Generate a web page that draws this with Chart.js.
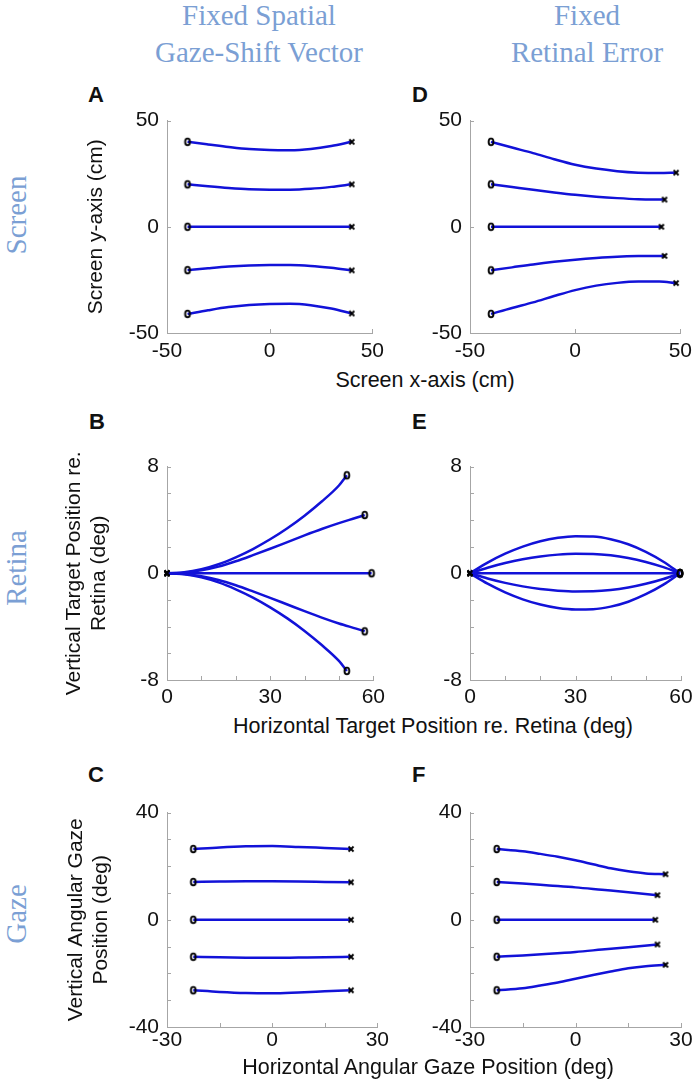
<!DOCTYPE html>
<html>
<head>
<meta charset="utf-8">
<script src="https://cdn.jsdelivr.net/npm/chart.js@4.4.1/dist/chart.umd.min.js"></script>
<style>
  body { margin: 0; background: #fff; }
  #fig { position: relative; width: 698px; height: 1084px; overflow: hidden; font-family: "Liberation Sans", Arial, sans-serif; color: #111; }
  canvas { position: absolute; }
  .head { position: absolute; font-family: "Liberation Serif", "Times New Roman", serif; color: #7b9fd4; font-size: 29px; line-height: 37px; text-align: center; width: 260px; white-space: nowrap; }
  .row { position: absolute; font-family: "Liberation Serif", "Times New Roman", serif; color: #7b9fd4; font-size: 29px; line-height: 30px; width: 200px; text-align: center; transform: rotate(-90deg); }
  .letter { position: absolute; font-weight: bold; font-size: 22px; line-height: 22px; }
  .xtitle { position: absolute; font-size: 21.5px; line-height: 24px; width: 600px; text-align: center; white-space: nowrap; }
</style>
</head>
<body>
<div id="fig">
  <div class="head" style="left:129px; top:-3px;">Fixed Spatial<br>Gaze-Shift Vector</div>
  <div class="head" style="left:457px; top:-3px;">Fixed<br>Retinal Error</div>

  <div class="row" style="left:-84px; top:200px;">Screen</div>
  <div class="row" style="left:-84px; top:553px;">Retina</div>
  <div class="row" style="left:-84px; top:899px;">Gaze</div>

  <div class="letter" style="left:88px; top:84px;">A</div>
  <div class="letter" style="left:412px; top:84px;">D</div>
  <div class="letter" style="left:89px; top:411px;">B</div>
  <div class="letter" style="left:412px; top:411px;">E</div>
  <div class="letter" style="left:88px; top:764px;">C</div>
  <div class="letter" style="left:412px; top:764px;">F</div>

  <canvas id="pA" width="330" height="262" style="left:60px; top:100px;"></canvas>
  <canvas id="pD" width="298" height="262" style="left:400px; top:100px;"></canvas>
  <canvas id="pB" width="330" height="263" style="left:60px; top:446px;"></canvas>
  <canvas id="pE" width="298" height="263" style="left:400px; top:446px;"></canvas>
  <canvas id="pC" width="330" height="264" style="left:60px; top:792px;"></canvas>
  <canvas id="pF" width="298" height="264" style="left:400px; top:792px;"></canvas>

  <div class="xtitle" style="left:125px; top:368px;">Screen x-axis (cm)</div>
  <div class="xtitle" style="left:133px; top:714px;">Horizontal Target Position re. Retina (deg)</div>
  <div class="xtitle" style="left:128px; top:1055px;">Horizontal Angular Gaze Position (deg)</div>
</div>

<script>
// A: screen coordinates, fixed spatial gaze-shift vector
const screenX = [-40, -30, -20, -10, 0, 10, 20, 30, 40];
const aY1 = [40, 38.8, 37.6, 36.6, 36.1, 36.0, 36.6, 38.0, 40];
const aY2 = [20, 19.1, 18.3, 17.7, 17.5, 17.5, 17.9, 18.8, 20];
const aY3 = [0, 0, 0, 0, 0, 0, 0, 0, 0];
const aY4 = [-20.4, -19.5, -18.7, -18.2, -18.0, -18.0, -18.4, -19.3, -20.5];
const aY5 = [-41, -39.3, -37.8, -36.8, -36.3, -36.2, -36.9, -38.5, -40.8];

// D: screen coordinates, fixed retinal error
const dX1 = [-40, -30, -20, -10, 0, 10, 20, 30, 40, 48];
const dY1 = [40, 37.3, 34.7, 31.8, 29.2, 27.4, 26.2, 25.5, 25.3, 25.5];
const dX2 = [-40, -30, -20, -10, 0, 10, 20, 30, 42.5];
const dY2 = [20, 18.7, 17.4, 16.2, 15.1, 14.2, 13.5, 13.0, 12.8];
const dX3 = [-40, 41];
const dY3 = [0, 0];
const dY4 = [-20.5, -19.1, -17.7, -16.5, -15.5, -14.7, -14.1, -13.8, -13.7];
const dY5 = [-41, -38.2, -35.6, -32.6, -29.8, -27.7, -26.4, -25.8, -25.8, -26.5];

// B: retinal coordinates, fixed spatial vector
const bX1 = [0, 5, 10, 15, 20, 25, 30, 35, 40, 45, 50, 52.3];
const bY1 = [0, 0.07, 0.3, 0.68, 1.2, 1.82, 2.55, 3.38, 4.32, 5.38, 6.58, 7.35];
const bX2 = [0, 5, 10, 15, 20, 25, 30, 35, 40, 45, 50, 55, 57.5];
const bY2 = [0, 0.05, 0.22, 0.5, 0.9, 1.36, 1.84, 2.34, 2.84, 3.32, 3.76, 4.16, 4.37];
const bX3 = [0, 59.5];
const bY3 = [0, 0];
const bY4 = [0, -0.05, -0.22, -0.5, -0.9, -1.36, -1.84, -2.34, -2.84, -3.32, -3.76, -4.15, -4.35];
const bY5 = [0, -0.07, -0.3, -0.68, -1.2, -1.82, -2.55, -3.38, -4.32, -5.38, -6.57, -7.32];

// E: retinal coordinates, fixed retinal error
const eX = [0, 5, 10, 15, 20, 25, 30, 35, 40, 45, 50, 55, 59.7];
const eY1 = [0, 0.8, 1.47, 2.0, 2.4, 2.66, 2.78, 2.76, 2.56, 2.18, 1.61, 0.87, 0];
const eY2 = [0, 0.42, 0.77, 1.05, 1.26, 1.4, 1.46, 1.45, 1.35, 1.15, 0.85, 0.46, 0];
const eX3 = [0, 59.7];
const eY3 = [0, 0];
const eY4 = [0, -0.39, -0.72, -0.98, -1.18, -1.3, -1.36, -1.35, -1.26, -1.07, -0.79, -0.43, 0];
const eY5 = [0, -0.78, -1.43, -1.95, -2.34, -2.6, -2.71, -2.69, -2.5, -2.13, -1.57, -0.85, 0];

// C: gaze coordinates, fixed spatial vector
const cX = [-22.5, -15, -7.5, 0, 7.5, 15, 22.5];
const cY1 = [26.4, 27.0, 27.4, 27.5, 27.2, 26.8, 26.4];
const cY2 = [14.1, 14.25, 14.35, 14.35, 14.3, 14.15, 14.0];
const cY3 = [0, 0, 0, 0, 0, 0, 0];
const cY4 = [-13.8, -14.0, -14.15, -14.2, -14.1, -14.0, -13.8];
const cY5 = [-26.3, -26.9, -27.3, -27.4, -27.1, -26.7, -26.3];

// F: gaze coordinates, fixed retinal error
const fX1 = [-22.4, -15, -10, -5, 0, 5, 10, 15, 20, 25.6];
const fY1 = [26.4, 25.6, 24.6, 23.5, 22.2, 20.7, 19.2, 18.1, 17.3, 17.0];
const fX2 = [-22.4, -15, -7.5, 0, 7.5, 15, 23.3];
const fY2 = [14.1, 13.5, 12.8, 12.1, 11.2, 10.3, 9.2];
const fX3 = [-22.4, 22.7];
const fY3 = [0, 0];
const fY4 = [-13.8, -13.3, -12.7, -12.0, -11.1, -10.2, -9.2];
const fY5 = [-26.3, -25.5, -24.5, -23.4, -22.0, -20.6, -19.3, -18.1, -17.3, -16.8];

// tick labels
const screenTicks = [-50, 0, 50];
const retinaXTicks = [0, 30, 60];
const retinaYTicks = [-8, 0, 8];
const gazeXTicks = [-30, 0, 30];
const gazeYTicks = [-40, 0, 40];

const blue = '#1212d8';
const labelFont = { family: 'Liberation Sans', size: 21 };

function makeRing() {
  const c = document.createElement('canvas');
  c.width = 10; c.height = 12;
  const g = c.getContext('2d');
  g.strokeStyle = '#000';
  g.lineWidth = 1.9;
  g.beginPath();
  g.ellipse(5, 6, 2.4, 3.4, 0, 0, Math.PI * 2);
  g.stroke();
  return c;
}

function makeCross() {
  const c = document.createElement('canvas');
  c.width = 8; c.height = 8;
  const g = c.getContext('2d');
  g.strokeStyle = '#000';
  g.lineWidth = 1.8;
  g.beginPath();
  g.moveTo(1.5, 1.5); g.lineTo(6.5, 6.5);
  g.moveTo(6.5, 1.5); g.lineTo(1.5, 6.5);
  g.stroke();
  return c;
}

const ring = makeRing();
const cross = makeCross();

function series(xs, ys, startMark, endMark) {
  const last = xs.length - 1;
  return {
    data: xs.map((x, i) => ({ x: x, y: ys[i] })),
    borderColor: blue,
    borderWidth: 2.5,
    fill: false,
    clip: false,
    cubicInterpolationMode: 'monotone',
    pointRadius: c => (c.dataIndex === 0 || c.dataIndex === last) ? 4 : 0,
    pointHoverRadius: 0,
    pointStyle: c => c.dataIndex === 0 ? startMark : endMark,
  };
}

// little tick marks that point into the plot, like the original
const innerTicks = {
  id: 'innerTicks',
  beforeDatasetsDraw(chart) {
    const { ctx, chartArea: a, scales: { x, y } } = chart;
    ctx.save();
    ctx.strokeStyle = '#a6a6a6';
    ctx.lineWidth = 1;
    ctx.beginPath();
    x.ticks.forEach(t => {
      const px = Math.round(x.getPixelForValue(t.value)) + 0.5;
      ctx.moveTo(px, a.bottom);
      ctx.lineTo(px, a.bottom - 4);
    });
    y.ticks.forEach(t => {
      const py = Math.round(y.getPixelForValue(t.value)) + 0.5;
      ctx.moveTo(a.left, py);
      ctx.lineTo(a.left + 4, py);
    });
    ctx.stroke();
    ctx.restore();
  }
};

function makePanel(id, p) {
  const yTitle = p.yTitle
    ? { display: true, text: p.yTitle, font: labelFont, color: '#111', padding: { top: p.yTitlePad, bottom: 0 } }
    : { display: false };
  new Chart(document.getElementById(id), {
    type: 'line',
    data: { datasets: p.datasets },
    options: {
      responsive: false,
      animation: false,
      events: [],
      layout: { padding: { top: 15, right: p.padRight, bottom: 0, left: 0 } },
      plugins: { legend: { display: false }, tooltip: { enabled: false } },
      scales: {
        x: {
          type: 'linear',
          min: p.xMin, max: p.xMax,
          afterFit: s => { s.height = 29; },
          border: { color: '#a6a6a6', width: 1 },
          grid: { drawOnChartArea: false, drawTicks: false },
          ticks: {
            stepSize: p.xStep, autoSkip: false, maxRotation: 0,
            padding: p.xPad, font: labelFont, color: '#111',
            callback: v => p.xLabels.includes(v) ? String(v) : ''
          }
        },
        y: {
          type: 'linear',
          min: p.yMin, max: p.yMax,
          afterFit: s => { s.width = p.yWidth; },
          border: { color: '#a6a6a6', width: 1 },
          grid: { drawOnChartArea: false, drawTicks: false },
          title: yTitle,
          ticks: {
            stepSize: p.yStep, autoSkip: false,
            padding: 8, font: labelFont, color: '#111',
            callback: v => p.yLabels.includes(v) ? String(v) : ''
          }
        }
      }
    },
    plugins: [innerTicks]
  });
}

const left = { yWidth: 107, padRight: 12 };
const right = { yWidth: 70, padRight: 17 };

makePanel('pA', Object.assign({}, left, {
  xMin: -50, xMax: 50, xStep: 50, xLabels: screenTicks, xPad: 6,
  yMin: -50, yMax: 50, yStep: 50, yLabels: screenTicks,
  yTitle: 'Screen y-axis (cm)', yTitlePad: 23.4,
  datasets: [
    series(screenX, aY1, ring, cross), series(screenX, aY2, ring, cross),
    series(screenX, aY3, ring, cross), series(screenX, aY4, ring, cross),
    series(screenX, aY5, ring, cross)
  ]
}));

makePanel('pD', Object.assign({}, right, {
  xMin: -50, xMax: 50, xStep: 50, xLabels: screenTicks, xPad: 6,
  yMin: -50, yMax: 50, yStep: 50, yLabels: screenTicks,
  datasets: [
    series(dX1, dY1, ring, cross), series(dX2, dY2, ring, cross),
    series(dX3, dY3, ring, cross), series(dX2, dY4, ring, cross),
    series(dX1, dY5, ring, cross)
  ]
}));

makePanel('pB', Object.assign({}, left, {
  xMin: 0, xMax: 60, xStep: 10, xLabels: retinaXTicks, xPad: 5,
  yMin: -8, yMax: 8, yStep: 2, yLabels: retinaYTicks,
  yTitle: ['Vertical Target Position re.', 'Retina (deg)'], yTitlePad: 1.5,
  datasets: [
    series(bX1, bY1, cross, ring), series(bX2, bY2, cross, ring),
    series(bX3, bY3, cross, ring), series(bX2, bY4, cross, ring),
    series(bX1, bY5, cross, ring)
  ]
}));

makePanel('pE', Object.assign({}, right, {
  xMin: 0, xMax: 60, xStep: 10, xLabels: retinaXTicks, xPad: 5,
  yMin: -8, yMax: 8, yStep: 2, yLabels: retinaYTicks,
  datasets: [
    series(eX, eY1, cross, ring), series(eX, eY2, cross, ring),
    series(eX3, eY3, cross, ring), series(eX, eY4, cross, ring),
    series(eX, eY5, cross, ring)
  ]
}));

makePanel('pC', Object.assign({}, left, {
  xMin: -30, xMax: 30, xStep: 15, xLabels: gazeXTicks, xPad: 1,
  yMin: -40, yMax: 40, yStep: 10, yLabels: gazeYTicks,
  yTitle: ['Vertical Angular Gaze', 'Position (deg)'], yTitlePad: 3.5,
  datasets: [
    series(cX, cY1, ring, cross), series(cX, cY2, ring, cross),
    series(cX, cY3, ring, cross), series(cX, cY4, ring, cross),
    series(cX, cY5, ring, cross)
  ]
}));

makePanel('pF', Object.assign({}, right, {
  xMin: -30, xMax: 30, xStep: 15, xLabels: gazeXTicks, xPad: 1,
  yMin: -40, yMax: 40, yStep: 10, yLabels: gazeYTicks,
  datasets: [
    series(fX1, fY1, ring, cross), series(fX2, fY2, ring, cross),
    series(fX3, fY3, ring, cross), series(fX2, fY4, ring, cross),
    series(fX1, fY5, ring, cross)
  ]
}));
</script>
</body>
</html>
